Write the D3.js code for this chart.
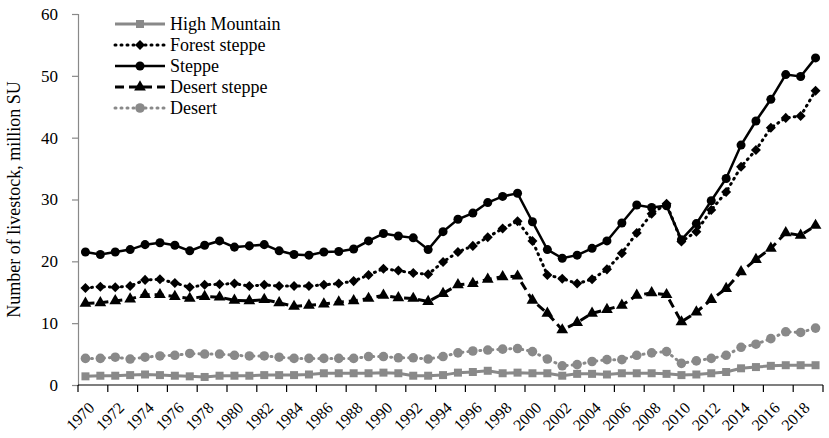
<!DOCTYPE html>
<html>
<head>
<meta charset="utf-8">
<script src="https://cdn.jsdelivr.net/npm/d3@7"></script>
<style>
  body { margin: 0; background: #fff; }
  text { font-family: "Liberation Serif", "Times New Roman", serif; fill: #000; }
</style>
</head>
<body>
<svg id="chart" width="829" height="438"></svg>
<script>
// categories
var years = d3.range(1970, 2020);
var yTicks = [0, 10, 20, 30, 40, 50, 60];

// series values, million SU
var highMountain = [
  1.4, 1.5, 1.5, 1.6, 1.7, 1.6, 1.5, 1.4, 1.3, 1.5,
  1.5, 1.5, 1.6, 1.6, 1.6, 1.7, 1.9, 1.9, 1.9, 1.9,
  2.0, 1.9, 1.5, 1.5, 1.6, 2.0, 2.1, 2.3, 1.9, 2.0,
  1.9, 1.9, 1.5, 1.8, 1.8, 1.7, 1.9, 1.9, 1.9, 1.8,
  1.6, 1.7, 1.9, 2.1, 2.7, 2.9, 3.1, 3.2, 3.2, 3.2];
var forestSteppe = [
  15.7, 15.9, 15.8, 16.0, 17.0, 17.1, 16.5, 15.8, 16.2, 16.3,
  16.4, 16.0, 16.2, 16.0, 16.0, 16.0, 16.2, 16.4, 16.8, 17.8,
  18.8, 18.5, 18.1, 17.9, 19.9, 21.5, 22.5, 23.9, 25.3, 26.5,
  23.3, 17.8, 17.2, 16.4, 17.1, 18.7, 21.3, 24.6, 27.7, 29.3,
  23.2, 24.8, 28.3, 31.2, 35.3, 38.0, 41.6, 43.2, 43.5, 47.6];
var steppe = [
  21.5, 21.1, 21.5, 21.9, 22.7, 23.0, 22.6, 21.7, 22.6, 23.3,
  22.3, 22.5, 22.7, 21.7, 21.1, 21.0, 21.5, 21.6, 22.0, 23.3,
  24.5, 24.1, 23.8, 21.9, 24.8, 26.8, 27.8, 29.5, 30.5, 31.0,
  26.4, 21.9, 20.5, 21.0, 22.1, 23.3, 26.2, 29.1, 28.7, 29.0,
  23.5, 26.1, 29.8, 33.4, 38.8, 42.7, 46.2, 50.2, 49.9, 52.9];
var desertSteppe = [
  13.2, 13.3, 13.6, 13.9, 14.6, 14.6, 14.3, 14.0, 14.3, 14.2,
  13.7, 13.6, 13.8, 13.3, 12.7, 12.9, 13.1, 13.4, 13.6, 14.0,
  14.5, 14.1, 14.0, 13.5, 14.8, 16.2, 16.4, 17.1, 17.5, 17.6,
  13.7, 11.6, 8.9, 10.1, 11.6, 12.2, 12.9, 14.5, 14.9, 14.6,
  10.2, 11.8, 13.8, 15.6, 18.3, 20.3, 22.1, 24.6, 24.2, 25.8];
var desert = [
  4.3, 4.3, 4.5, 4.2, 4.5, 4.7, 4.8, 5.1, 5.0, 5.0,
  4.8, 4.7, 4.7, 4.5, 4.3, 4.3, 4.3, 4.3, 4.3, 4.6,
  4.6, 4.4, 4.4, 4.2, 4.6, 5.2, 5.5, 5.65, 5.8, 5.9,
  5.4, 4.2, 3.1, 3.3, 3.8, 4.1, 4.1, 4.8, 5.2, 5.4,
  3.5, 3.9, 4.3, 4.8, 6.1, 6.6, 7.5, 8.6, 8.5, 9.2];

var seriesNames = ["High Mountain", "Forest steppe", "Steppe", "Desert steppe", "Desert"];
var seriesValues = [highMountain, forestSteppe, steppe, desertSteppe, desert];

var grey = "#898989";
var styles = [
    {color: grey,   width: 3,   dash: null,  symbol: d3.symbolSquare,   size: 64},
    {color: "#000", width: 3,   dash: "1,5", symbol: d3.symbolDiamond2, size: 64},
    {color: "#000", width: 2.5, dash: null,  symbol: d3.symbolCircle,   size: 64},
    {color: "#000", width: 3,   dash: "9,5", symbol: d3.symbolTriangle, size: 60},
    {color: grey,   width: 3,   dash: "1,5", symbol: d3.symbolCircle,   size: 72}
];

var svg = d3.select("#chart");
var plotLeft = 78, plotRight = 823, plotTop = 14, plotBottom = 385;

var x = d3.scaleBand().domain(years).range([plotLeft, plotRight]).padding(0);
var y = d3.scaleLinear().domain([0, 60]).range([plotBottom, plotTop]);
var cx = function (yr) { return x(yr) + x.bandwidth() / 2; };

// y axis
var yAxis = svg.append("g")
    .attr("transform", "translate(" + plotLeft + ",0)")
    .call(d3.axisLeft(y).tickValues(yTicks).tickSize(6).tickPadding(14));
yAxis.select(".domain").attr("stroke", grey).attr("stroke-width", 1.2);
yAxis.selectAll(".tick line").attr("stroke", grey).attr("stroke-width", 1.2);
yAxis.selectAll("text").style("font-size", "17px").attr("fill", "#000")
    .style("font-family", "Liberation Serif");

svg.append("text")
    .attr("transform", "translate(20," + ((plotTop + plotBottom) / 2) + ") rotate(-90)")
    .attr("text-anchor", "middle")
    .style("font-size", "18px")
    .text("Number of livestock, million SU");

// x axis: labels on category centres, ticks on boundaries every 2 years
var evenYears = years.filter(function (d) { return d % 2 === 0; });
var xAxis = svg.append("g")
    .attr("transform", "translate(0," + plotBottom + ")")
    .call(d3.axisBottom(x).tickValues(evenYears).tickSize(0).tickPadding(0));
xAxis.select(".domain").remove();
xAxis.selectAll(".tick text")
    .attr("text-anchor", "end")
    .attr("transform", "translate(6,20) rotate(-45)")
    .attr("dy", "0.35em")
    .style("font-size", "16px")
    .style("font-family", "Liberation Serif")
    .attr("fill", "#000");

svg.append("line")
    .attr("x1", plotLeft).attr("x2", plotRight)
    .attr("y1", plotBottom).attr("y2", plotBottom)
    .attr("stroke", "#000").attr("stroke-width", 1.2);
svg.append("g").selectAll("line")
    .data(evenYears.concat(["end"]))
    .enter().append("line")
    .attr("x1", function (d) { return d === "end" ? plotRight : x(d); })
    .attr("x2", function (d) { return d === "end" ? plotRight : x(d); })
    .attr("y1", plotBottom).attr("y2", plotBottom + 7)
    .attr("stroke", "#000").attr("stroke-width", 1.2);

// series
var line = d3.line()
    .x(function (d) { return cx(d.year); })
    .y(function (d) { return y(d.value); });

seriesValues.forEach(function (vals, i) {
    var st = styles[i];
    var pts = vals.map(function (v, j) { return {year: years[j], value: v}; });
    var g = svg.append("g");
    g.append("path")
        .datum(pts)
        .attr("d", line)
        .attr("fill", "none")
        .attr("stroke", st.color)
        .attr("stroke-width", st.width)
        .attr("stroke-linecap", st.dash === "1,5" ? "round" : "butt")
        .attr("stroke-dasharray", st.dash);
    g.selectAll("path.mark")
        .data(pts)
        .enter().append("path")
        .attr("class", "mark")
        .attr("d", d3.symbol().type(st.symbol).size(st.size))
        .attr("transform", function (d) {
            return "translate(" + cx(d.year) + "," + y(d.value) + ")";
        })
        .attr("fill", st.color);
});

// legend
var legend = svg.append("g");
seriesNames.forEach(function (name, i) {
    var st = styles[i];
    var ly = 24 + i * 21;
    legend.append("line")
        .attr("x1", 115).attr("x2", 165)
        .attr("y1", ly).attr("y2", ly)
        .attr("stroke", st.color)
        .attr("stroke-width", st.width)
        .attr("stroke-linecap", st.dash === "1,5" ? "round" : "butt")
        .attr("stroke-dasharray", st.dash);
    legend.append("path")
        .attr("d", d3.symbol().type(st.symbol).size(st.size))
        .attr("transform", "translate(140," + ly + ")")
        .attr("fill", st.color);
    legend.append("text")
        .attr("x", 170).attr("y", ly + 5.5)
        .style("font-size", "18px")
        .text(name);
});
</script>
</body>
</html>
